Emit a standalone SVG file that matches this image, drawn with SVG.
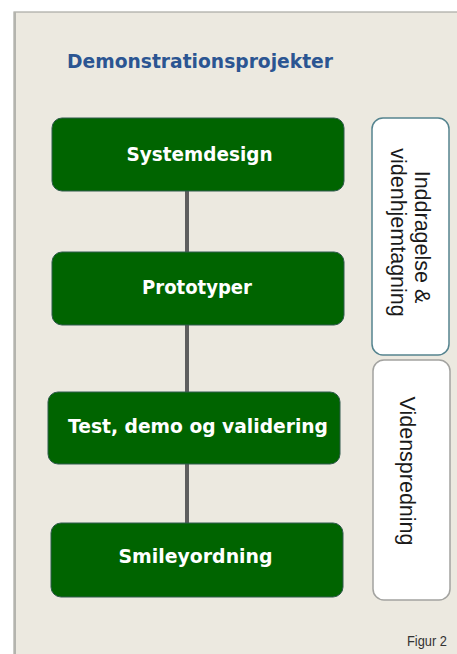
<svg xmlns="http://www.w3.org/2000/svg" width="457" height="654" viewBox="0 0 457 654">
<style>
.step rect{fill:#006400;stroke:#2F5A4C;stroke-width:1}
.step text{font-family:"DejaVu Sans",Verdana,sans-serif;font-weight:bold;font-size:19.5px;fill:#FFFFFF;text-anchor:middle}
.side rect{fill:#FFFFFF;stroke-width:1.5}
.side text{font-family:"Liberation Sans",Arial,sans-serif;font-size:21.5px;fill:#1A1A1A;text-anchor:middle}
.conn line{stroke:#5E5E5E;stroke-width:4}
</style>
<rect x="0" y="0" width="457" height="654" fill="#FFFFFF"/>
<rect x="14" y="12" width="460" height="660" fill="#ECE9E0" stroke="#A9A9A3" stroke-width="1.2"/>
<line x1="15" y1="12" x2="15" y2="654" stroke="#B4B4AE" stroke-width="2"/>
<text id="title" x="67" y="67.5" font-family="'DejaVu Sans',Verdana,sans-serif" font-weight="bold" font-size="19" fill="#2B5592" textLength="266" lengthAdjust="spacingAndGlyphs">Demonstrationsprojekter</text>
<g id="connectors" class="conn">
<line x1="187" y1="191" x2="187" y2="253"/>
<line x1="187" y1="325" x2="187" y2="392"/>
<line x1="187" y1="464" x2="187" y2="524"/>
</g>
<g id="systemdesign" class="step">
<rect x="52" y="118" width="292" height="73" rx="10"/>
<text x="199.5" y="160.5" textLength="146" lengthAdjust="spacingAndGlyphs">Systemdesign</text>
</g>
<g id="prototyper" class="step">
<rect x="52" y="252" width="292" height="73" rx="10"/>
<text x="197" y="293.5" textLength="110" lengthAdjust="spacingAndGlyphs">Prototyper</text>
</g>
<g id="test" class="step">
<rect x="48" y="392" width="292" height="72" rx="10"/>
<text x="198" y="432.5" textLength="260" lengthAdjust="spacingAndGlyphs">Test, demo og validering</text>
</g>
<g id="smiley" class="step">
<rect x="51" y="523" width="292" height="74" rx="10"/>
<text x="195.5" y="562.5" textLength="154" lengthAdjust="spacingAndGlyphs">Smileyordning</text>
</g>
<g id="inddragelse" class="side">
<rect x="372" y="118" width="77" height="237" rx="11" stroke="#55848F"/>
<text transform="translate(415,237) rotate(90)">Inddragelse &amp;</text>
<text transform="translate(391,232.5) rotate(90)">videnhjemtagning</text>
</g>
<g id="videnspredning" class="side">
<rect x="373" y="360" width="77" height="240" rx="11" stroke="#A3A3A0"/>
<text transform="translate(400,471) rotate(90)">Videnspredning</text>
</g>
<text id="figur" x="407" y="646" font-family="'Liberation Sans',Arial,sans-serif" font-size="14" fill="#333333" textLength="40" lengthAdjust="spacingAndGlyphs">Figur 2</text>
</svg>
